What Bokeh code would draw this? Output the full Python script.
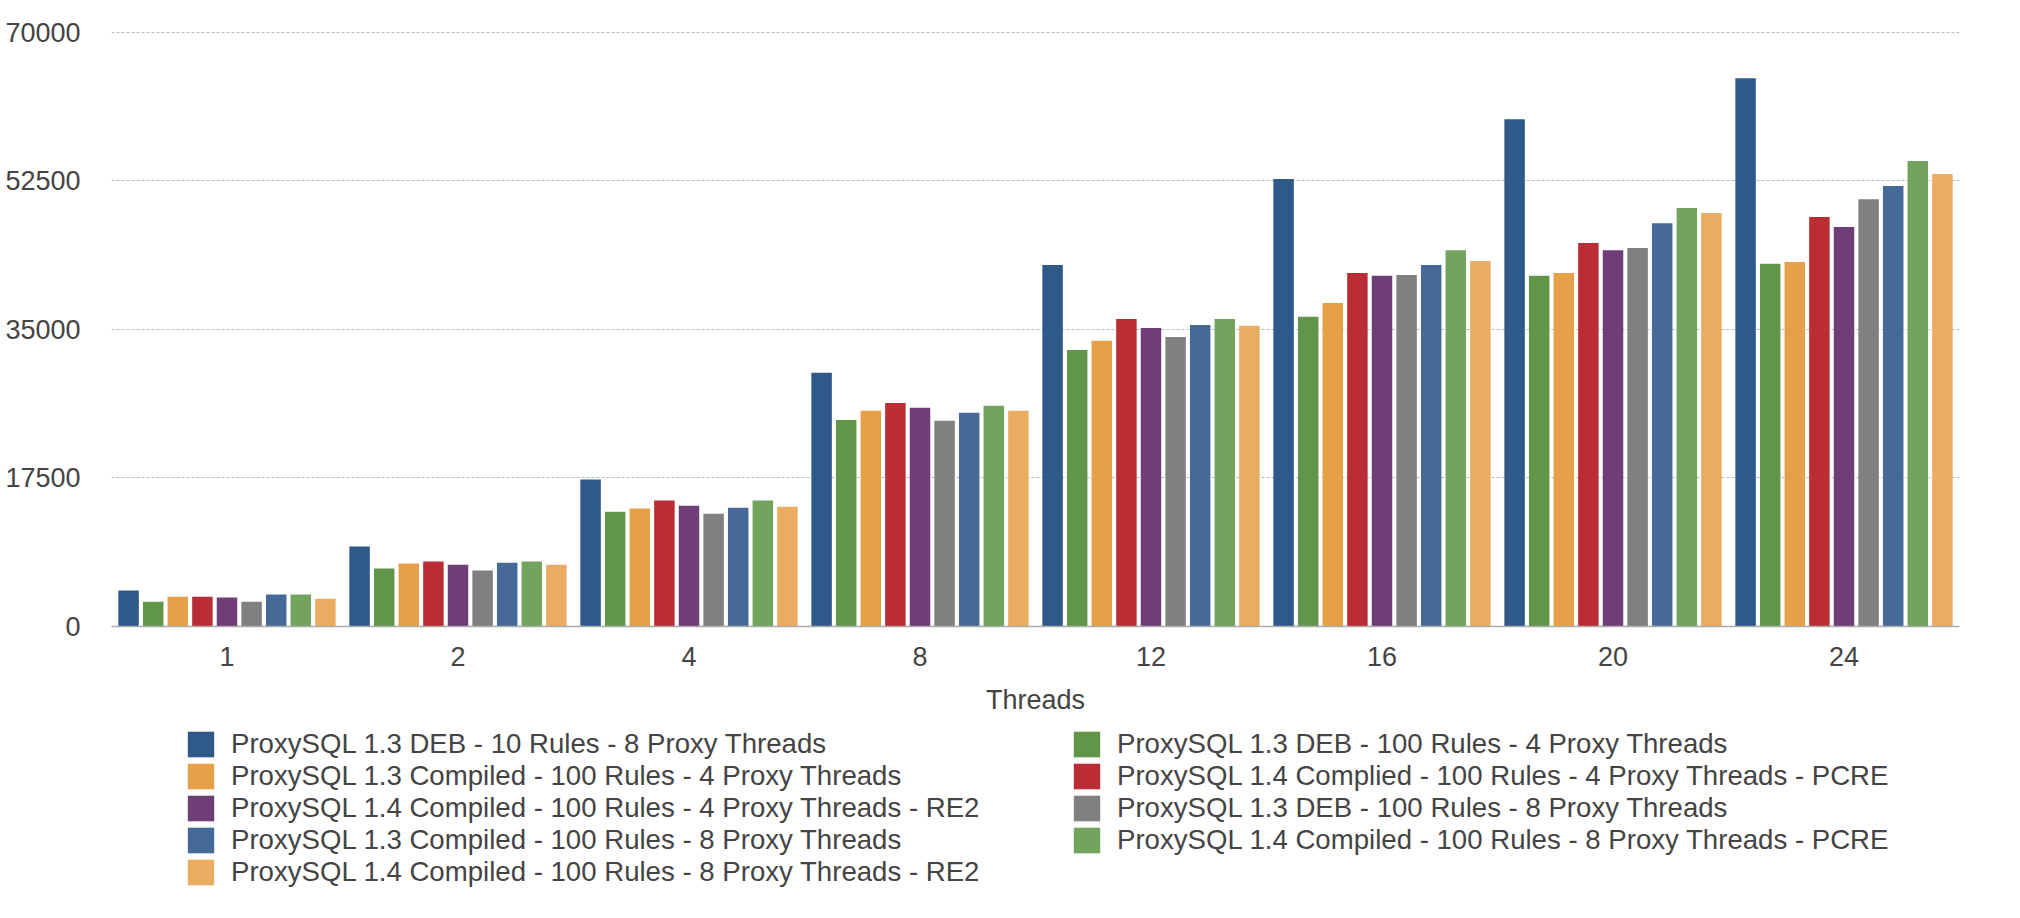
from bokeh.plotting import figure
from bokeh.layouts import column
from bokeh.models import FactorRange, Range1d, FixedTicker, Legend, LegendItem, ColumnDataSource
from bokeh.transform import dodge
from bokeh.embed import file_html
from bokeh.resources import INLINE

threads = ["1", "2", "4", "8", "12", "16", "20", "24"]

series_names = [
    "ProxySQL 1.3 DEB - 10 Rules - 8 Proxy Threads",
    "ProxySQL 1.3 DEB - 100 Rules - 4 Proxy Threads",
    "ProxySQL 1.3 Compiled - 100 Rules - 4 Proxy Threads",
    "ProxySQL 1.4 Complied - 100 Rules - 4 Proxy Threads - PCRE",
    "ProxySQL 1.4 Compiled - 100 Rules - 4 Proxy Threads - RE2",
    "ProxySQL 1.3 DEB - 100 Rules - 8 Proxy Threads",
    "ProxySQL 1.3 Compiled - 100 Rules - 8 Proxy Threads",
    "ProxySQL 1.4 Compiled - 100 Rules - 8 Proxy Threads - PCRE",
    "ProxySQL 1.4 Compiled - 100 Rules - 8 Proxy Threads - RE2",
]

colors = ["#2f5989", "#61964a", "#e5a048", "#bb2d35", "#6f3e78",
          "#808080", "#456a98", "#72a45e", "#e9ac60"]

deb13_10r_8t = [4240, 9420, 17320, 29900, 42590, 52730, 59760, 64590]
deb13_100r_4t = [2930, 6830, 13510, 24340, 32590, 36490, 41320, 42730]
comp13_100r_4t = [3510, 7420, 13900, 25420, 33660, 38100, 41660, 42930]
comp14_100r_4t_pcre = [3510, 7660, 14830, 26340, 36240, 41660, 45170, 48240]
comp14_100r_4t_re2 = [3420, 7270, 14240, 25760, 35170, 41320, 44340, 47070]
deb13_100r_8t = [2930, 6590, 13270, 24240, 34100, 41420, 44590, 50340]
comp13_100r_8t = [3760, 7510, 14000, 25170, 35510, 42590, 47510, 51900]
comp14_100r_8t_pcre = [3760, 7660, 14830, 26000, 36240, 44340, 49320, 54830]
comp14_100r_8t_re2 = [3270, 7270, 14100, 25420, 35420, 43070, 48730, 53320]

series_values = [deb13_10r_8t, deb13_100r_4t, comp13_100r_4t, comp14_100r_4t_pcre,
                 comp14_100r_4t_re2, deb13_100r_8t, comp13_100r_8t,
                 comp14_100r_8t_pcre, comp14_100r_8t_re2]

y_ticks = [0, 17500, 35000, 52500, 70000]

data = {"threads": threads}
for i, vals in enumerate(series_values):
    data[f"s{i}"] = vals
src = ColumnDataSource(data)

FONT = "Liberation Sans"
TXT = "#444444"
W = 2020
LEFT = 111

p = figure(
    width=W, height=726,
    x_range=FactorRange(factors=threads, range_padding=0),
    y_range=Range1d(0, 70100),
    output_backend="svg", toolbar_location=None, tools="",
    min_border_left=LEFT, min_border_right=61,
    min_border_top=31, min_border_bottom=100,
)
p.outline_line_color = None

step = 0.1065
bw = 0.0887
for i in range(len(series_values)):
    off = (i - 4) * step
    p.vbar(x=dodge("threads", off, range=p.x_range), top=f"s{i}", width=bw,
           bottom=0, source=src, fill_color=colors[i], line_color=None)

# grid
p.xgrid.visible = False
p.ygrid.grid_line_color = "#bbbbbb"
p.ygrid.grid_line_dash = "3 2"
p.ygrid.grid_line_width = 1

# y axis
p.yaxis.ticker = FixedTicker(ticks=y_ticks)
p.yaxis.axis_line_color = None
p.yaxis.major_tick_line_color = None
p.yaxis.minor_tick_line_color = None
p.yaxis.major_tick_out = 0
p.yaxis.major_tick_in = 0
p.yaxis.major_label_standoff = 31
p.yaxis.major_label_text_font = FONT
p.yaxis.major_label_text_font_size = "27px"
p.yaxis.major_label_text_color = TXT

# x axis
p.xaxis.axis_line_color = "#aaaaaa"
p.xaxis.axis_line_width = 1.5
p.xaxis.major_tick_line_color = None
p.xaxis.minor_tick_line_color = None
p.xaxis.major_tick_out = 0
p.xaxis.major_tick_in = 0
p.xaxis.major_label_standoff = 20
p.xaxis.major_label_text_font = FONT
p.xaxis.major_label_text_font_size = "27px"
p.xaxis.major_label_text_color = TXT
p.xaxis.axis_label = "Threads"
p.xaxis.axis_label_text_font = FONT
p.xaxis.axis_label_text_font_size = "27px"
p.xaxis.axis_label_text_font_style = "normal"
p.xaxis.axis_label_text_color = TXT
p.xaxis.axis_label_standoff = 16

# legend panel (separate figure below the chart); its bars are degenerate and
# lie far below its visible y range, so only their legend swatches show
LH = 918 - 726
lg = figure(
    width=W, height=LH,
    x_range=FactorRange(factors=threads, range_padding=0),
    y_range=Range1d(1e6, 2e6),
    x_axis_type=None, y_axis_type=None,
    output_backend="svg", toolbar_location=None, tools="",
    min_border=0, min_border_left=LEFT, min_border_right=61,
    min_border_top=0, min_border_bottom=0,
)
lg.outline_line_color = None
lg.grid.visible = False

swatches = []
for i in range(len(series_values)):
    off = (i - 4) * step
    r = lg.vbar(x=dodge("threads", off, range=lg.x_range), top=f"s{i}", width=0,
                bottom=f"s{i}", source=src, fill_color=colors[i], line_color=None)
    swatches.append(r)


def make_legend(idx, loc):
    items = [LegendItem(label=series_names[i], renderers=[swatches[i]]) for i in idx]
    return Legend(items=items, location=loc, orientation="vertical",
                  glyph_width=33, glyph_height=32, label_height=32,
                  spacing=0, padding=0, margin=0,
                  label_standoff=14, border_line_color=None,
                  background_fill_alpha=0,
                  label_text_font=FONT, label_text_font_size="27.6px",
                  label_text_color=TXT)


lg.add_layout(make_legend([0, 2, 4, 6, 8], (184 - LEFT, LH - 1.5 - 160)))
lg.add_layout(make_legend([1, 3, 5, 7], (1070 - LEFT, LH - 1.5 - 128)))

layout = column(p, lg, spacing=0)
open("out.html", "w").write(file_html(layout, INLINE))
